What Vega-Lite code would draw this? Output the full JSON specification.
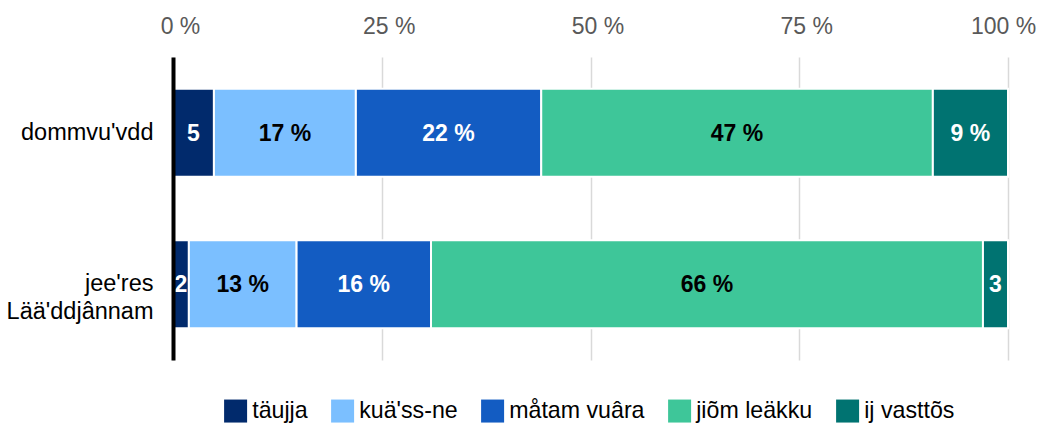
{
  "$schema": "https://vega.github.io/schema/vega-lite/v6.json",
  "width": 835,
  "height": 303,
  "autosize": {"type": "none"},
  "padding": {"left": 173, "top": 57, "right": 29, "bottom": 63},
  "background": "white",
  "config": {
    "font": "Liberation Sans",
    "view": {"stroke": null}
  },
  "data": {
    "values": [
      {"region": "dommvu'vdd", "cat": "täujja", "order": 1, "value": 4.9, "label": "5"},
      {"region": "dommvu'vdd", "cat": "kuä'ss-ne", "order": 2, "value": 17, "label": "17 %"},
      {"region": "dommvu'vdd", "cat": "måtam vuâra", "order": 3, "value": 22.2, "label": "22 %"},
      {"region": "dommvu'vdd", "cat": "jiõm leäkku", "order": 4, "value": 46.9, "label": "47 %"},
      {"region": "dommvu'vdd", "cat": "ij vasttõs", "order": 5, "value": 9, "label": "9 %"},
      {"region": "jee'res Lää'ddjânnam", "cat": "täujja", "order": 1, "value": 1.9, "label": "2"},
      {"region": "jee'res Lää'ddjânnam", "cat": "kuä'ss-ne", "order": 2, "value": 12.9, "label": "13 %"},
      {"region": "jee'res Lää'ddjânnam", "cat": "måtam vuâra", "order": 3, "value": 16.1, "label": "16 %"},
      {"region": "jee'res Lää'ddjânnam", "cat": "jiõm leäkku", "order": 4, "value": 66.1, "label": "66 %"},
      {"region": "jee'res Lää'ddjânnam", "cat": "ij vasttõs", "order": 5, "value": 3, "label": "3"}
    ]
  },
  "transform": [
    {"stack": "value", "groupby": ["region"], "sort": [{"field": "order"}], "as": ["v0", "v1"]},
    {"calculate": "(datum.v0 + datum.v1) / 2", "as": "mid"}
  ],
  "encoding": {
    "y": {
      "field": "region",
      "type": "nominal",
      "sort": ["dommvu'vdd", "jee'res Lää'ddjânnam"],
      "scale": {"paddingInner": 0, "paddingOuter": 0},
      "axis": {
        "title": null,
        "ticks": false,
        "domainColor": "black",
        "domainWidth": 4,
        "zindex": 1,
        "labelExpr": "split(datum.label, ' ')",
        "labelFontSize": 23.5,
        "labelColor": "black",
        "labelPadding": 20,
        "labelLineHeight": 28
      }
    }
  },
  "layer": [
    {
      "mark": {"type": "bar", "height": {"band": 0.58}, "stroke": "white", "strokeWidth": 2},
      "encoding": {
        "x": {
          "field": "v0",
          "type": "quantitative",
          "scale": {"domain": [0, 100], "nice": false},
          "axis": {
            "orient": "top",
            "title": null,
            "values": [0, 25, 50, 75, 100],
            "labelExpr": "datum.value + ' %'",
            "labelFlush": false,
            "ticks": false,
            "domain": false,
            "grid": true,
            "gridColor": "#d9d9d9",
            "gridWidth": 1.5,
            "labelFontSize": 23,
            "labelColor": "#595959",
            "labelPadding": 19,
            "labelOffset": {"condition": {"test": "datum.value === 100", "value": -5}, "value": 7}
          }
        },
        "x2": {"field": "v1"},
        "color": {
          "field": "cat",
          "type": "nominal",
          "sort": ["täujja", "kuä'ss-ne", "måtam vuâra", "jiõm leäkku", "ij vasttõs"],
          "scale": {
            "domain": ["täujja", "kuä'ss-ne", "måtam vuâra", "jiõm leäkku", "ij vasttõs"],
            "range": ["#012a6c", "#7bbfff", "#135cc2", "#3ec699", "#007371"]
          },
          "legend": {
            "title": null,
            "orient": "none",
            "direction": "horizontal",
            "legendX": 51,
            "legendY": 342,
            "symbolType": "square",
            "symbolSize": 529,
            "symbolStrokeWidth": 0,
            "symbolOpacity": 1,
            "labelFontSize": 23.2,
            "labelColor": "black",
            "labelOffset": 5,
            "columnPadding": 23
          }
        },
        "order": {"field": "order"}
      }
    },
    {
      "mark": {"type": "text", "fontWeight": "bold", "fontSize": 23, "align": "center", "baseline": "middle", "dy": 1},
      "encoding": {
        "x": {"field": "mid", "type": "quantitative"},
        "text": {"field": "label"},
        "color": {
          "condition": {"test": "datum.cat === 'kuä\\'ss-ne' || datum.cat === 'jiõm leäkku'", "value": "black"},
          "value": "white"
        }
      }
    }
  ]
}
